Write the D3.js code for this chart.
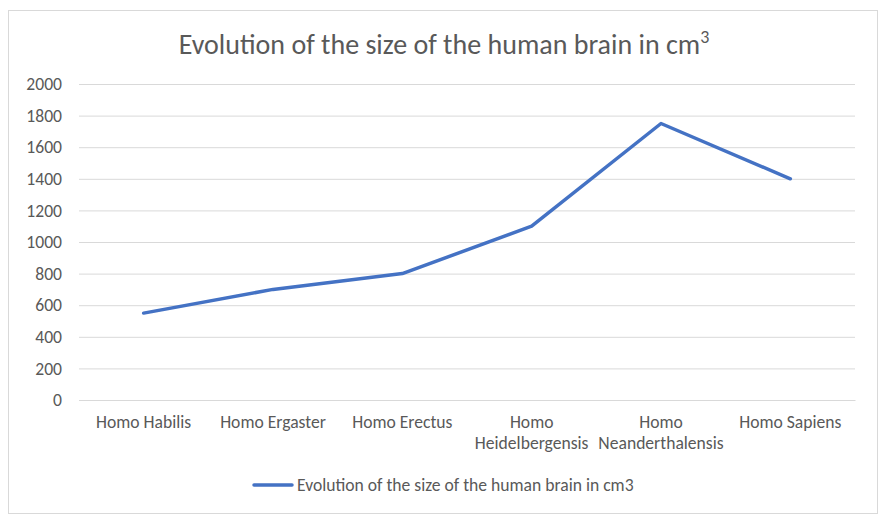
<!DOCTYPE html>
<html><head><meta charset="utf-8">
<script src="https://cdn.jsdelivr.net/npm/d3@7"></script>
<style>body{margin:0;background:#fff}svg text{font-family:Carlito,Calibri,Lato,"Open Sans",sans-serif}</style>
</head><body>
<svg id="c" width="889" height="527"></svg>
<script>
const categories = [["Homo Habilis"],["Homo Ergaster"],["Homo Erectus"],["Homo","Heidelbergensis"],["Homo","Neanderthalensis"],["Homo Sapiens"]];
const values = [550, 700, 800, 1100, 1750, 1400];
const yTicks = [0,200,400,600,800,1000,1200,1400,1600,1800,2000];
const seriesName = "Evolution of the size of the human brain in cm3";

const svg = d3.select("#c");
svg.append("rect").attr("x",8.5).attr("y",10.5).attr("width",869).attr("height",503).attr("fill","#fff").attr("stroke","#d9d9d9");

const x = d3.scaleBand().domain(d3.range(categories.length)).range([79,855]);
const y = d3.scaleLinear().domain([0,2000]).range([400,84]);

const fs = "17.6px";
const yAxis = d3.axisLeft(y).tickValues(yTicks).tickSize(-(855-79)).tickPadding(17).tickFormat(d3.format("d"));
const gy = svg.append("g").attr("transform","translate(79,0)").call(yAxis);
gy.select(".domain").remove();
gy.selectAll(".tick line").attr("stroke","#d9d9d9").attr("stroke-width",1);
gy.selectAll(".tick text").attr("fill","#595959").style("font-size",fs);

const xAxis = d3.axisBottom(x).tickSize(0).tickFormat(()=>"");
const gx = svg.append("g").attr("transform","translate(0,400)").call(xAxis);
gx.select(".domain").attr("stroke","#d9d9d9");
gx.selectAll(".tick").each(function(d){
  const t = d3.select(this).append("text").attr("fill","#595959").style("font-size",fs).attr("text-anchor","middle");
  categories[d].forEach((s,i)=>t.append("tspan").attr("x",0).attr("y",28+i*21).text(s));
});

const line = d3.line().x((d,i)=>x(i)+x.bandwidth()/2).y(d=>y(d));
svg.append("path").datum(values).attr("d",line).attr("fill","none").attr("stroke","#4472C4").attr("stroke-width",3.5).attr("stroke-linecap","round").attr("stroke-linejoin","round");

const title = svg.append("text").attr("x",444).attr("y",54).attr("text-anchor","middle").attr("fill","#595959").style("font-size","28px").style("font-weight","300");
title.append("tspan").text("Evolution of the size of the human brain in cm");
title.append("tspan").attr("dy",-11).style("font-size","18px").text("3");

svg.append("line").attr("x1",254).attr("x2",292).attr("y1",485).attr("y2",485).attr("stroke","#4472C4").attr("stroke-width",3.5).attr("stroke-linecap","round");
svg.append("text").attr("x",297).attr("y",491).attr("fill","#595959").style("font-size",fs).text(seriesName);
</script>
</body></html>
